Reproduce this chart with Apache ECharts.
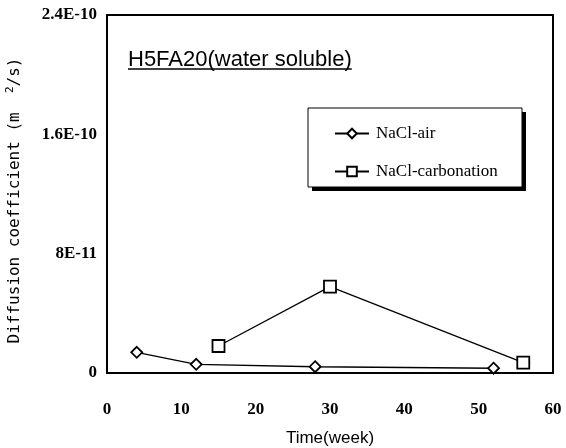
<!DOCTYPE html>
<html>
<head>
<meta charset="utf-8">
<script src="https://cdn.jsdelivr.net/npm/echarts@6/dist/echarts.min.js"></script>
<style>
  html, body { margin: 0; padding: 0; background: #fff; }
  #chart { width: 566px; height: 448px; }
</style>
</head>
<body>
<div id="chart"></div>
<script>
// Chloride diffusion coefficient of H5FA20 over exposure time
const airWeeks = [4, 12, 28, 52];
const airValues = [1.39e-11, 5.8e-12, 4.2e-12, 3.2e-12];
const carbWeeks = [15, 30, 56];
const carbValues = [1.81e-11, 5.79e-11, 6.9e-12];
const yTickLabels = ['0', '8E-11', '1.6E-10', '2.4E-10'];
const seriesNames = ['NaCl-air', 'NaCl-carbonation'];
const panelTitle = 'H5FA20(water soluble)';

const serif = 'Liberation Serif';
const sans = 'Liberation Sans';

function pairs(xs, ys) {
  return xs.map((x, i) => [x, ys[i]]);
}

// width of the panel title, used for its underline
function textWidth(text, font) {
  const ctx = document.createElement('canvas').getContext('2d');
  ctx.font = font;
  return ctx.measureText(text).width;
}

const titleLeft = 128;
const titleTop = 49;
const titleSize = 22;
const titleW = textWidth(panelTitle, titleSize + 'px "' + sans + '"');

// legend frame with a solid drop shadow
const box = { x: 308, y: 108, w: 214, h: 79, shadow: 4 };

const chart = echarts.init(document.getElementById('chart'));
chart.setOption({
  backgroundColor: '#fff',
  animation: false,
  title: {
    text: panelTitle,
    left: titleLeft,
    top: titleTop,
    padding: 0,
    textStyle: { fontFamily: sans, fontSize: titleSize, fontWeight: 'normal', color: '#000' }
  },
  graphic: [
    {
      type: 'line', z: 5,
      shape: { x1: titleLeft, y1: titleTop + titleSize - 2, x2: titleLeft + titleW, y2: titleTop + titleSize - 2 },
      style: { stroke: '#000', lineWidth: 1.5 }
    },
    {
      type: 'rect', z: 1,
      shape: { x: box.x + box.shadow, y: box.y + box.shadow, width: box.w, height: box.h },
      style: { fill: '#000' }
    },
    {
      type: 'rect', z: 2,
      shape: { x: box.x, y: box.y, width: box.w, height: box.h },
      style: { fill: '#fff', stroke: '#000', lineWidth: 1 }
    }
  ],
  legend: {
    orient: 'vertical',
    left: 334,
    top: 125,
    padding: 0,
    itemGap: 21,
    itemWidth: 34,
    itemHeight: 12,
    textStyle: { fontFamily: serif, fontSize: 17, color: '#000', padding: [0, 0, 0, 2] },
    data: seriesNames
  },
  grid: {
    left: 107, right: 13, top: 15, bottom: 75,
    outerBoundsMode: 'none',
    containLabel: false,
    show: true, borderColor: '#000', borderWidth: 2, backgroundColor: 'transparent'
  },
  xAxis: {
    type: 'value',
    min: 0, max: 60, interval: 10,
    name: 'Time(week)',
    nameLocation: 'middle',
    nameGap: 57,
    nameTextStyle: { fontFamily: sans, fontSize: 17, color: '#000' },
    axisLine: { show: false },
    axisTick: { show: false },
    splitLine: { show: false },
    axisLabel: { margin: 28, fontFamily: serif, fontSize: 17, fontWeight: 'bold', color: '#000' }
  },
  yAxis: {
    type: 'value',
    min: 0, max: 2.4e-10, interval: 8e-11,
    name: 'Diffusion coefficient (m  {sup|2}/s)',
    nameLocation: 'middle',
    nameRotate: 90,
    nameGap: 83,
    nameTextStyle: {
      fontFamily: 'DejaVu Sans Mono', fontSize: 16, color: '#000', padding: [0, 13, 0, 0],
      rich: { sup: { fontFamily: 'DejaVu Sans Mono', fontSize: 11, color: '#000', verticalAlign: 'top', padding: [0, 0, 8, 0] } }
    },
    axisLine: { show: false },
    axisTick: { show: false },
    splitLine: { show: false },
    axisLabel: {
      margin: 10, fontFamily: serif, fontSize: 17, fontWeight: 'bold', color: '#000',
      formatter: v => yTickLabels[Math.round(v / 8e-11)]
    }
  },
  series: [
    {
      name: seriesNames[0],
      type: 'line',
      data: pairs(airWeeks, airValues),
      symbol: 'diamond',
      symbolSize: 11,
      showAllSymbol: true,
      lineStyle: { color: '#000', width: 1.3 },
      itemStyle: { color: '#fff', borderColor: '#000', borderWidth: 1.8 },
      emphasis: { disabled: true }
    },
    {
      name: seriesNames[1],
      type: 'line',
      data: pairs(carbWeeks, carbValues),
      symbol: 'rect',
      symbolSize: 12,
      showAllSymbol: true,
      lineStyle: { color: '#000', width: 1.3 },
      itemStyle: { color: '#fff', borderColor: '#000', borderWidth: 1.8 },
      emphasis: { disabled: true }
    }
  ]
});
</script>
</body>
</html>
